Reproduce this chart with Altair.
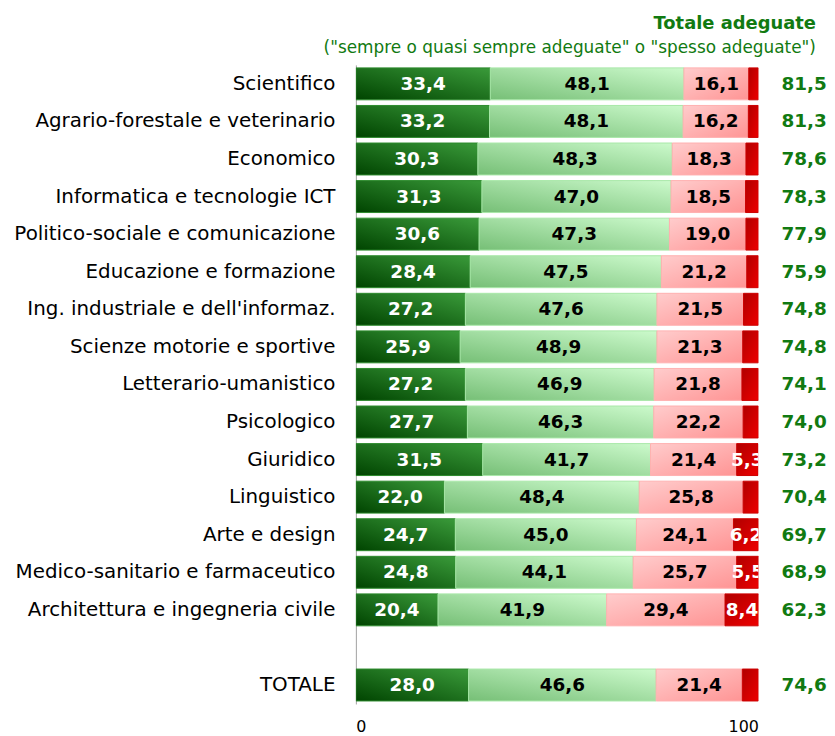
import altair as alt
import pandas as pd

categories = [
    "Scientifico",
    "Agrario-forestale e veterinario",
    "Economico",
    "Informatica e tecnologie ICT",
    "Politico-sociale e comunicazione",
    "Educazione e formazione",
    "Ing. industriale e dell'informaz.",
    "Scienze motorie e sportive",
    "Letterario-umanistico",
    "Psicologico",
    "Giuridico",
    "Linguistico",
    "Arte e design",
    "Medico-sanitario e farmaceutico",
    "Architettura e ingegneria civile",
    "TOTALE",
]
sempre = [33.4, 33.2, 30.3, 31.3, 30.6, 28.4, 27.2, 25.9, 27.2, 27.7, 31.5, 22.0, 24.7, 24.8, 20.4, 28.0]
spesso = [48.1, 48.1, 48.3, 47.0, 47.3, 47.5, 47.6, 48.9, 46.9, 46.3, 41.7, 48.4, 45.0, 44.1, 41.9, 46.6]
raramente = [16.1, 16.2, 18.3, 18.5, 19.0, 21.2, 21.5, 21.3, 21.8, 22.2, 21.4, 25.8, 24.1, 25.7, 29.4, 21.4]
mai = [2.4, 2.5, 3.1, 3.2, 3.1, 2.9, 3.7, 3.9, 4.1, 3.8, 5.3, 3.8, 6.2, 5.5, 8.4, 4.0]
totali = [81.5, 81.3, 78.6, 78.3, 77.9, 75.9, 74.8, 74.8, 74.1, 74.0, 73.2, 70.4, 69.7, 68.9, 62.3, 74.6]

order = categories[:-1] + [" "] + ["TOTALE"]

def fmt(v):
    return f"{v:.1f}".replace(".", ",")

rows = []
for i, c in enumerate(categories):
    start = 0.0
    for k, v in enumerate([sempre[i], spesso[i], raramente[i], mai[i]]):
        rows.append(dict(cat=c, seg=k, start=start, end=start + v, mid=start + v / 2,
                         value=v, label=fmt(v)))
        start += v
df = pd.DataFrame(rows)
tot_df = pd.DataFrame(dict(cat=categories, total=totali, label=[fmt(t) for t in totali]))

FONT = "DejaVu Sans"
GREEN = "#117a11"

y_enc = alt.Y(
    "cat:N",
    sort=order,
    scale=alt.Scale(domain=order, paddingInner=0.15, paddingOuter=0.08),
    axis=alt.Axis(title=None, ticks=False, labelFontSize=20, labelColor="black",
                  labelPadding=21, labelLimit=400, domainColor="#a0a0a0", labelFont=FONT),
)
x_scale = alt.Scale(domain=[0, 100], nice=False)
x_axis = alt.Axis(title=None, values=[0, 100], grid=False, domain=False, ticks=False,
                  labelFontSize=16, labelPadding=15, labelColor="black", labelFont=FONT)

base = alt.Chart(df)

def grad(c0, c1, x1, y1, x2, y2):
    return alt.Gradient(gradient="linear",
                        stops=[alt.GradientStop(color=c0, offset=0), alt.GradientStop(color=c1, offset=1)],
                        x1=x1, y1=y1, x2=x2, y2=y2)

fills = [
    (grad("#004400", "#3a9a3a", 0, 1, 1, 0), "#2c8a2c"),
    (grad("#76bf76", "#ccfacc", 0, 1, 1, 0), "#a8e8a8"),
    (grad("#ffcccc", "#ff9494", 0, 0, 1, 1), "#ffb0b0"),
    (grad("#b00000", "#ee0000", 0, 0, 1, 1), "#cc0000"),
]

layers = []
for k, (g, s) in enumerate(fills):
    layers.append(
        base.transform_filter(alt.datum.seg == k).mark_bar(color=g, clip=True, stroke=s, strokeWidth=1)
        .encode(x=alt.X("start:Q", scale=x_scale, axis=x_axis), x2="end:Q", y=y_enc)
    )

text_cfg = dict(font=FONT, fontWeight="bold", fontSize=18.5)
for k, col in enumerate(["white", "black", "black", "white"]):
    src = base.transform_filter(alt.datum.seg == k)
    if k == 3:
        src = src.transform_filter(alt.datum.value >= 5)
    layers.append(
        src.mark_text(color=col, clip=True, **text_cfg)
        .encode(x=alt.X("mid:Q", scale=x_scale), y=alt.Y("cat:N", sort=order), text="label:N")
    )

layers.append(
    alt.Chart(tot_df).mark_text(align="right", color=GREEN, **text_cfg)
    .encode(x=alt.datum(117), y=alt.Y("cat:N", sort=order), text="label:N")
)

chart = alt.layer(*layers).properties(
    width=405,
    height=643,
    padding={"left": 5, "top": 5, "right": 0, "bottom": 0},
    title=alt.TitleParams(
        "Totale adeguate",
        subtitle='("sempre o quasi sempre adeguate" o "spesso adeguate")',
        anchor="end", frame="bounds", color=GREEN, subtitleColor=GREEN,
        font=FONT, subtitleFont=FONT, fontSize=18, subtitleFontSize=17,
        fontWeight="bold", subtitlePadding=7, offset=9, dx=-11,
    ),
).configure_view(stroke=None)

chart.save("out.html", embed_options={"renderer": "svg", "actions": False})
